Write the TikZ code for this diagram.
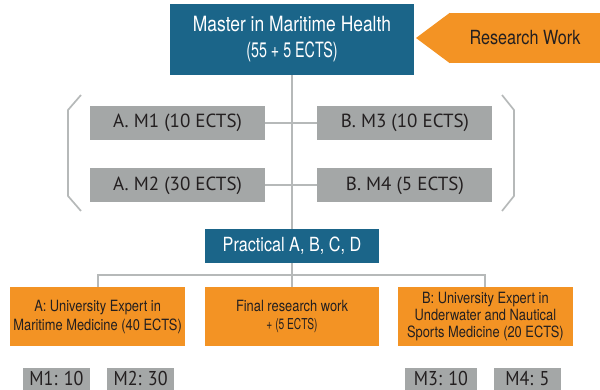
\documentclass[tikz,border=0pt]{standalone}
\usepackage{fontspec}
\setmainfont{TeX Gyre Heros}
\newfontfamily\condfont[FakeStretch=0.83]{TeX Gyre Heros}
\newfontfamily\narrowfont[FakeStretch=0.68]{TeX Gyre Heros}
\newfontfamily\modfont{PT Sans}
\newfontfamily\modcond[FakeStretch=0.9]{PT Sans}
\usetikzlibrary{positioning,calc}
\definecolor{mhteal}{RGB}{27,101,137}
\definecolor{mhorange}{RGB}{243,147,36}
\definecolor{mhgrey}{RGB}{164,167,167}
\definecolor{mhline}{RGB}{182,185,185}
\definecolor{mhtext}{RGB}{35,31,32}

\begin{document}
\begin{tikzpicture}[x=1pt,y=-1pt]
 \tikzset{main node/.style={rectangle, fill=mhteal, text=white,
 		align=center, inner sep=0pt, font=\condfont\fontsize{21}{26}\selectfont}, }
 \tikzset{module node/.style={rectangle, fill=mhgrey, text=mhtext,
 		inner sep=0pt, minimum width=175pt, minimum height=34pt,
 		font=\modfont\fontsize{19}{22}\selectfont}, }
 \tikzset{expert node/.style={rectangle, fill=mhorange, text=mhtext,
 		align=center, inner sep=0pt, minimum width=174.5pt, minimum height=59pt,
 		font=\condfont\fontsize{15.5}{19}\selectfont}, }
 \tikzset{credit node/.style={rectangle, fill=mhgrey, text=mhtext,
 		inner sep=0pt, minimum width=67pt, minimum height=22.4pt,
 		font=\modcond\fontsize{20}{24}\selectfont}, }
 \tikzset{linea/.style={draw=mhline, line width=2pt},}
 \tikzset{brace/.style={draw=mhline, line width=1.7pt},}
 \useasboundingbox (0,0) rectangle (600,390);
 \clip (0,0) rectangle (600,390);

 \node[main node, minimum width=244pt, minimum height=71pt] (master) at (292,39.5)
 	{Master in Maritime Health\\{\narrowfont (55 + 5 ECTS)}};
 \node[rectangle, fill=mhorange, text=mhtext, minimum width=150pt, minimum height=50pt,
 	inner sep=0pt, font=\condfont\fontsize{19.5}{23}\selectfont] (research) at (525,38) {Research Work};
 \coordinate (tip) at (416,38);
 \fill[mhorange] (research.north west) -- (tip) -- (research.south west) -- cycle;

 \node[module node] (m1) at (177.5,123) {A. M1 (10 ECTS)};
 \node[module node] (m3)[right=52pt of m1] {B. M3 (10 ECTS)};
 \node[module node] (m2)[below=28pt of m1] {A. M2 (30 ECTS)};
 \node[module node] (m4)[right=52pt of m2] {B. M4 (5 ECTS)};

 \node[main node, minimum width=174pt, minimum height=34pt,
 	font=\condfont\fontsize{19.5}{23}\selectfont] (practical) at (292,246) {Practical A, B, C, D};
 \node[expert node] (final)[below=23.7pt of practical]
 	{Final research work\\[-1pt]{\narrowfont\fontsize{15}{18}\selectfont + (5 ECTS)}};
 \node[expert node] (unia)[left=19.5pt of final]
 	{A: University Expert in\\Maritime Medicine (40 ECTS)};
 \node[expert node, font=\condfont\fontsize{15.5}{17.2}\selectfont] (unib)[right=18.5pt of final]
 	{B: University Expert in\\Underwater and Nautical\\Sports Medicine (20 ECTS)};

 \node[credit node, anchor=north] (c1) at (56.5,367.3) {M1: 10};
 \node[credit node, anchor=north] (c2) at (140.6,367.3) {M2: 30};
 \node[credit node, anchor=north, minimum width=72pt] (c3) at (441,367.3) {M3: 10};
 \node[credit node, anchor=north] (c4) at (527.4,367.3) {M4: 5};

 \draw[linea] (master) -- (practical);
 \foreach \x /\y in {m1/m3,m2/m4,practical/final}
 	\draw[linea] (\x) -- (\y);
 \coordinate (split) at ($(practical.south)!0.5!(final.north)$);
 \draw[linea] (unia.north) |- (split) -| (unib.north);
 % brackets
 \draw[brace] (81,95) -- (68,110) -- (68,196) -- (81,211);
 \draw[brace] (502,95) -- (514,110) -- (514,196) -- (502,211);
% %%
\end{tikzpicture}
\end{document}
